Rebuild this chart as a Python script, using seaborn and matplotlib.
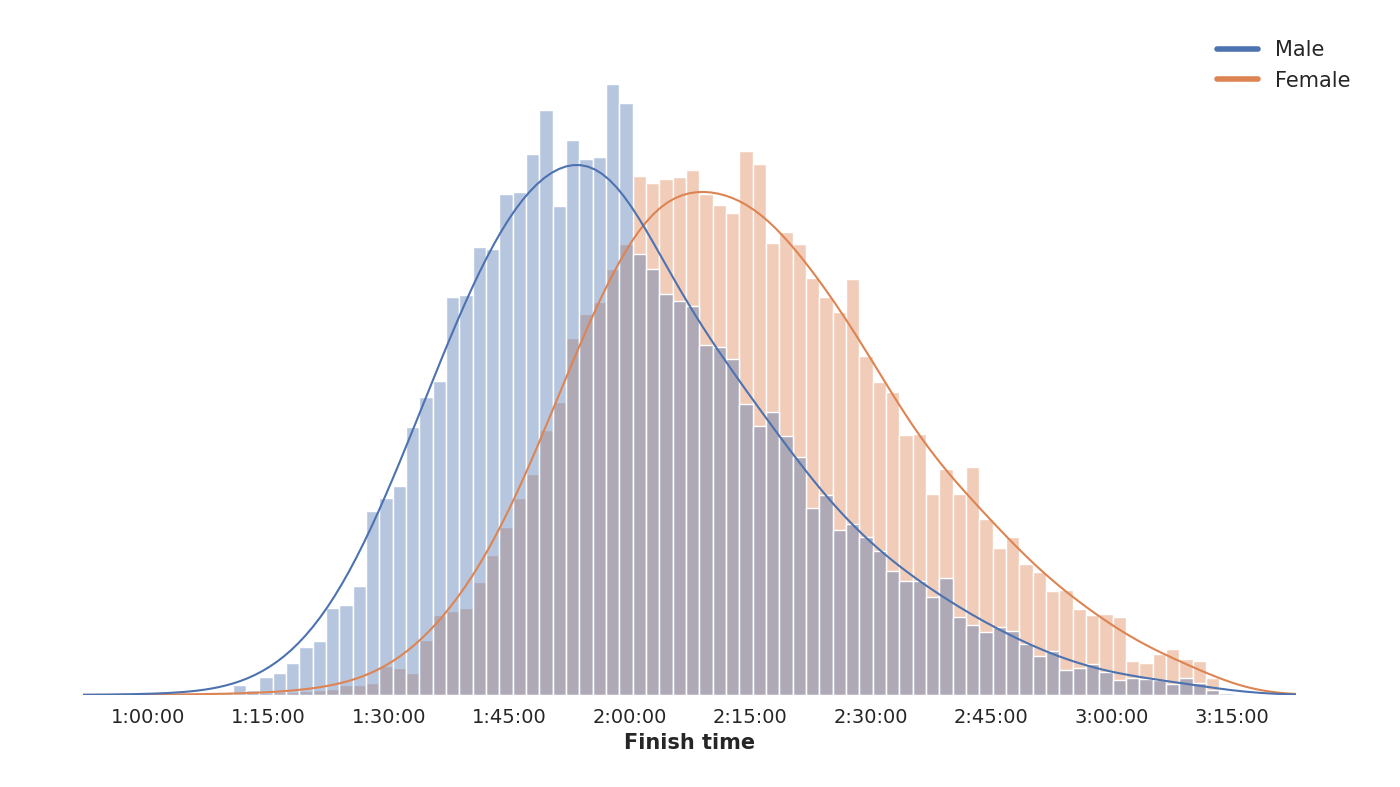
import numpy as np
import pandas as pd
import matplotlib
matplotlib.use("Agg")
import matplotlib.pyplot as plt
from matplotlib.lines import Line2D
from matplotlib.ticker import FuncFormatter
import seaborn as sns

# bin geometry (minutes)
bin_start = 60.62
bin_width = 1.66
n_bins = 81

male_counts = [6, 5, 3, 3, 4, 8, 23, 13, 43, 53, 78, 115, 131, 210, 217, 262, 443, 475, 505, 646,
               720, 757, 961, 966, 1082, 1076, 1210, 1215, 1305, 1413, 1181, 1339, 1294, 1300, 1475, 1430,
               1065, 1029, 969, 952, 939, 845, 839, 810, 703, 649, 683, 625, 575, 451, 483, 399, 413, 381,
               347, 299, 275, 275, 237, 283, 187, 170, 151, 165, 155, 123, 93, 105, 61, 65, 75, 55, 37,
               41, 39, 37, 27, 41, 28, 13, 5]
female_counts = [1, 1, 1, 1, 2, 2, 3, 4, 4, 6, 8, 10, 13, 15, 25, 25, 30, 71, 65, 55,
                 135, 195, 205, 213, 278, 343, 413, 483, 543, 651, 718, 875, 935, 965, 1045, 1107,
                 1273, 1257, 1267, 1270, 1288, 1228, 1203, 1183, 1335, 1303, 1109, 1135, 1107, 1023, 976,
                 940, 1021, 831, 768, 743, 638, 641, 493, 555, 493, 560, 431, 361, 387, 321, 301, 255,
                 258, 211, 195, 199, 191, 83, 79, 101, 113, 87, 83, 41, 2]
tick_minutes = [60, 75, 90, 105, 120, 135, 150, 165, 180, 195]

edges = bin_start + bin_width * np.arange(n_bins + 1)
centers = (edges[:-1] + edges[1:]) / 2
df = pd.concat([
    pd.DataFrame({"t": centers, "w": male_counts, "g": "Male"}),
    pd.DataFrame({"t": centers, "w": female_counts, "g": "Female"}),
])

sns.set_theme(style="white")
plt.rcParams['font.family'] = ['DejaVu Sans']
fig = plt.figure(figsize=(14, 7.87), dpi=100)
ax = fig.add_axes([0.059, 0.117, 0.867, 0.815])
pal = sns.color_palette("deep")
sns.histplot(data=df, x="t", weights="w", hue="g", binwidth=bin_width,
             binrange=(float(edges[0]), float(edges[-1])), stat="density",
             common_norm=False, kde=True, kde_kws={"bw_adjust": 0.55, "cut": 3},
             palette={"Male": pal[0], "Female": pal[1]}, alpha=0.4,
             edgecolor="white", linewidth=1, ax=ax, legend=False)
for ln in ax.lines:
    ln.set_linewidth(1.5)
ax.set_xlim(51.9, 203.0)
ax.set_xticks(tick_minutes)
ax.xaxis.set_major_formatter(FuncFormatter(lambda v, p: f"{int(v//60)}:{int(v%60):02d}:00"))
ax.tick_params(axis="x", labelsize=14)
ax.set_yticks([])
ax.set_ylabel("")
ax.set_xlabel("Finish time", fontsize=15, fontweight="bold")
for s in ax.spines.values():
    s.set_visible(False)
handles = [Line2D([0], [0], color=pal[0], lw=4, solid_capstyle="round"),
           Line2D([0], [0], color=pal[1], lw=4, solid_capstyle="round")]
ax.legend(handles, ["Male", "Female"], loc="upper right", frameon=False, fontsize=15,
          bbox_to_anchor=(1.06, 1.05))
fig.savefig("out.png", dpi=100)
